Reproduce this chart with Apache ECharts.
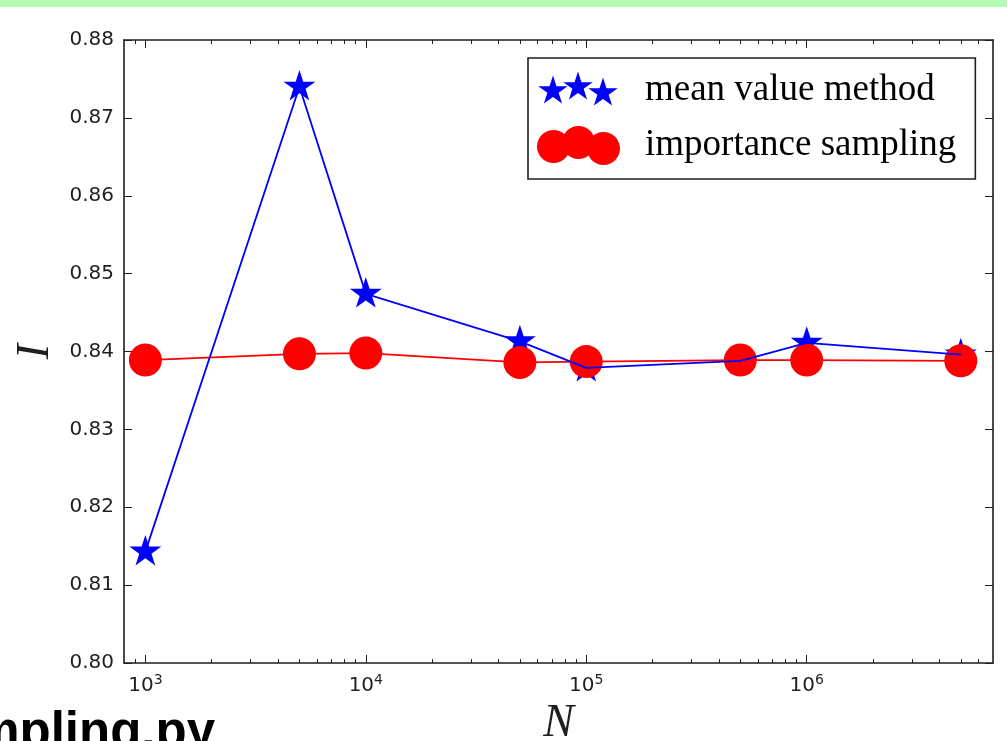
<!DOCTYPE html>
<html><head><meta charset="utf-8">
<script src="https://cdn.jsdelivr.net/npm/echarts@6/dist/echarts.min.js"></script>
<style>html,body{margin:0;padding:0;background:#fff;overflow:hidden}#c{width:1007px;height:741px}</style>
</head><body><div id="c"></div>
<script>
// ---- data ----
const sampleSizes = [1e3, 5e3, 1e4, 5e4, 1e5, 5e5, 1e6, 5e6];
const meanValueMethod = [0.8143, 0.8740, 0.8474, 0.8413, 0.8379, 0.8388, 0.8411, 0.8396];
const importanceSampling = [0.8389, 0.8397, 0.8398, 0.8386, 0.8387, 0.8389, 0.8389, 0.8388];
const seriesNames = ['mean value method', 'importance sampling'];
const xMajorTicks = [1e3, 1e4, 1e5, 1e6];
const xTickBase = ['10', '10', '10', '10'];
const xTickExp = ['3', '4', '5', '6'];
const xMinorTicks = [900, 2000, 3000, 4000, 5000, 6000, 7000, 8000, 9000,
  20000, 30000, 40000, 50000, 60000, 70000, 80000, 90000,
  200000, 300000, 400000, 500000, 600000, 700000, 800000, 900000,
  2000000, 3000000, 4000000, 5000000, 6000000];
const yTickLabels = ['0.80', '0.81', '0.82', '0.83', '0.84', '0.85', '0.86', '0.87', '0.88'];

// ---- shapes ----
function starPath(cx, cy, R) {
  const r = R * 0.381966; let d = '';
  for (let k = 0; k < 10; k++) {
    const a = (-90 + 36 * k) * Math.PI / 180, rad = k % 2 ? r : R;
    d += (k ? ' L ' : 'M ') + (cx + rad * Math.cos(a)).toFixed(2) + ' ' + (cy + rad * Math.sin(a)).toFixed(2);
  }
  return d + ' Z';
}
function circlePath(cx, cy, r) {
  return `M ${cx - r} ${cy} A ${r} ${r} 0 1 0 ${cx + r} ${cy} A ${r} ${r} 0 1 0 ${cx - r} ${cy} Z`;
}
const pad = ' M 0 0 L 0 0 M 103 39 L 103 39';
const legendStars = 'path://' + starPath(16, 20, 15.5) + ' ' + starPath(41, 16, 15.5) + ' ' + starPath(66, 22, 15.5) + pad;
const legendCircles = 'path://' + circlePath(16.5, 20.5, 16.5) + ' ' + circlePath(41.5, 16.5, 16.5) + ' ' + circlePath(66.5, 22.5, 16.5) + pad;

const blue = '#0000ff', red = '#ff0000', ink = '#1f1f1f';
const axisLine = { show: true, onZero: false, lineStyle: { color: ink, width: 1.6 } };
const xMin = 800, xMax = 7e6;

function xAxisDef(pos, major, withLabels) {
  const ax = {
    type: 'log', logBase: 10, min: xMin, max: xMax, position: pos,
    axisLine: major ? axisLine : { show: false },
    axisTick: { show: true, inside: true, length: major ? 8 : 4,
      customValues: major ? xMajorTicks : xMinorTicks, lineStyle: { color: ink, width: 1 } },
    axisLabel: { show: false },
    splitLine: { show: false }, minorTick: { show: false }
  };
  if (withLabels) {
    ax.axisLabel = {
      show: true, customValues: xMajorTicks, margin: 7,
      formatter: v => {
        const i = xMajorTicks.findIndex(t => Math.abs(t - v) / t < 1e-6);
        return i < 0 ? '' : '{b|' + xTickBase[i] + '}{e|' + xTickExp[i] + '}';
      },
      rich: {
        b: { fontFamily: 'DejaVu Sans', fontSize: 20, color: ink, lineHeight: 26, verticalAlign: 'bottom' },
        e: { fontFamily: 'DejaVu Sans', fontSize: 14, color: ink, lineHeight: 26, verticalAlign: 'bottom', padding: [0, 0, 9, 0] }
      }
    };
    ax.name = 'N'; ax.nameLocation = 'middle'; ax.nameGap = 38;
    ax.nameTextStyle = { fontFamily: 'Liberation Serif', fontStyle: 'italic', fontSize: 46, color: ink };
  }
  return ax;
}

const chart = echarts.init(document.getElementById('c'), null, { renderer: 'canvas' });
chart.setOption({
  backgroundColor: '#ffffff',
  animation: false,
  graphic: [
    { type: 'rect', left: 0, top: 0, shape: { x: 0, y: 0, width: 1007, height: 7 }, style: { fill: '#b3fbb3' }, z: 100 },
    { type: 'text', x: 215, y: 734, style: { text: 'sampling.py', fontFamily: 'Liberation Sans', fontWeight: 'bold', fontSize: 51, fill: '#000', align: 'right', verticalAlign: 'middle' }, z: 100 }
  ],
  grid: { left: 124, right: 14, top: 40, bottom: 78, containLabel: false, outerBoundsMode: 'none' },
  legend: {
    left: 528, top: 58, orient: 'vertical',
    padding: [13, 19, 14, 9], itemGap: 16, itemWidth: 103, itemHeight: 39,
    backgroundColor: '#fff', borderColor: ink, borderWidth: 1.6, borderRadius: 0,
    selectedMode: false,
    textStyle: { fontFamily: 'Liberation Serif', fontSize: 37, color: '#000' },
    data: [
      { name: seriesNames[0], icon: legendStars, itemStyle: { color: blue } },
      { name: seriesNames[1], icon: legendCircles, itemStyle: { color: red } }
    ]
  },
  xAxis: [
    xAxisDef('bottom', true, true),
    xAxisDef('bottom', false, false),
    xAxisDef('top', true, false),
    xAxisDef('top', false, false)
  ],
  yAxis: [
    {
      type: 'value', min: 0.8, max: 0.88, interval: 0.01, position: 'left',
      axisLine: axisLine,
      axisTick: { show: true, inside: true, length: 8, lineStyle: { color: ink, width: 1 } },
      axisLabel: { margin: 10, fontFamily: 'DejaVu Sans', fontSize: 20, color: ink,
        formatter: v => yTickLabels[Math.round((v - 0.8) * 100)] },
      splitLine: { show: false },
      name: 'I', nameLocation: 'middle', nameRotate: 90, nameGap: 65,
      nameTextStyle: { fontFamily: 'Liberation Serif', fontStyle: 'italic', fontSize: 46, color: ink }
    },
    {
      type: 'value', min: 0.8, max: 0.88, interval: 0.01, position: 'right',
      axisLine: axisLine,
      axisTick: { show: true, inside: true, length: 8, lineStyle: { color: ink, width: 1 } },
      axisLabel: { show: false }, splitLine: { show: false }
    }
  ],
  series: [
    {
      name: seriesNames[0], type: 'scatter', xAxisIndex: 0, yAxisIndex: 0, z: 2,
      symbol: 'path://' + starPath(0, 0, 16), symbolSize: [32, 30.5], symbolOffset: [0, -1.5],
      itemStyle: { color: blue, opacity: 1 },
      data: sampleSizes.map((n, i) => [n, meanValueMethod[i]])
    },
    {
      name: seriesNames[1], type: 'line', xAxisIndex: 0, yAxisIndex: 0, z: 3,
      symbol: 'circle', symbolSize: 33, showSymbol: true,
      lineStyle: { color: red, width: 1.8 },
      itemStyle: { color: red, borderWidth: 0 },
      data: sampleSizes.map((n, i) => [n, importanceSampling[i]])
    },
    {
      name: seriesNames[0], type: 'line', xAxisIndex: 0, yAxisIndex: 0, z: 4,
      showSymbol: false, symbol: 'none',
      lineStyle: { color: blue, width: 1.8 },
      itemStyle: { color: blue },
      data: sampleSizes.map((n, i) => [n, meanValueMethod[i]])
    }
  ]
});
</script>
</body></html>
